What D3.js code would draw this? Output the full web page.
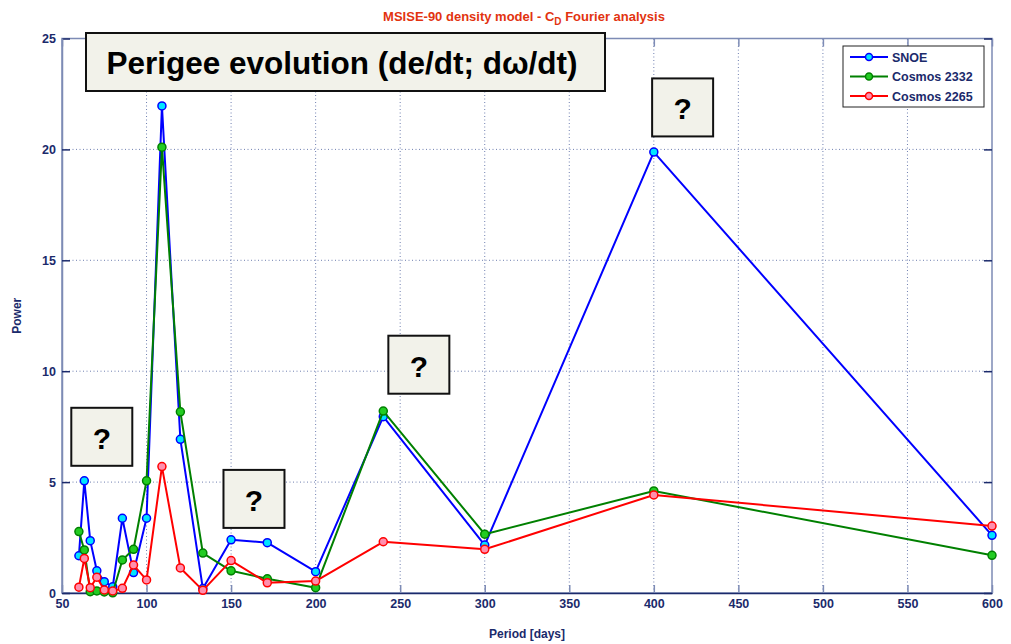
<!DOCTYPE html>
<html>
<head>
<meta charset="utf-8">
<script src="https://cdn.jsdelivr.net/npm/d3@7"></script>
<style>
  body { margin: 0; background: #fff; }
  svg { display: block; font-family: "Liberation Sans", Arial, sans-serif; }
</style>
</head>
<body>
<div data-output></div>
<script>
// Periods [days] (Fourier harmonics)
const periods = [60, 63.2, 66.7, 70.6, 75, 80, 85.7, 92.3, 100, 109.1, 120, 133.3, 150, 171.4, 200, 240, 300, 400, 600];

// Power per satellite
const snoe       = [1.68, 5.06, 2.36, 1.0, 0.51, 0.28, 3.37, 0.92, 3.37, 21.96, 6.93, 0.2, 2.4, 2.27, 0.96, 7.95, 2.16, 19.88, 2.6];
const cosmos2332 = [2.77, 1.94, 0.06, 0.09, 0.05, 0.01, 1.49, 1.97, 5.06, 20.1, 8.17, 1.8, 1.0, 0.64, 0.24, 8.2, 2.65, 4.6, 1.7];
const cosmos2265 = [0.26, 1.56, 0.24, 0.71, 0.14, 0.09, 0.21, 1.26, 0.59, 5.7, 1.13, 0.12, 1.46, 0.46, 0.54, 2.31, 1.97, 4.42, 3.02];

const xTicks = [50, 100, 150, 200, 250, 300, 350, 400, 450, 500, 550, 600];
const yTicks = [0, 5, 10, 15, 20, 25];

// "?" callouts, positioned in data units [period, power]
const questionBoxes = [[55.5, 8.35], [145.5, 5.55], [243, 11.6], [399, 23.2]];

const SIZE = { WIDTH: 1011, HEIGHT: 644 };
const NAVY = '#1b2a6b';
const FRAME = '#7d8bb5';

const series = [
  { name: 'SNOE',        values: snoe,       line: '#0000ff', fill: '#00e5ff', edge: '#0000ff' },
  { name: 'Cosmos 2332', values: cosmos2332, line: '#008000', fill: '#22cc22', edge: '#008000' },
  { name: 'Cosmos 2265', values: cosmos2265, line: '#ff0000', fill: '#ff8fae', edge: '#ff0000' }
];

const x = d3.scaleLinear().domain([50, 600]).range([62, 992]);
const y = d3.scaleLinear().domain([0, 25]).range([593, 38.5]);

const svg = d3.select('[data-output]').append('svg')
  .attr('width', SIZE.WIDTH)
  .attr('height', SIZE.HEIGHT);

// grid
svg.append('g')
  .selectAll('line')
  .data(xTicks.slice(1, -1))
  .join('line')
  .attr('x1', d => x(d)).attr('x2', d => x(d))
  .attr('y1', y(0)).attr('y2', y(25))
  .attr('stroke', '#6f7fb0').attr('stroke-dasharray', '1,2.5');

svg.append('g')
  .selectAll('line')
  .data(yTicks.slice(1, -1))
  .join('line')
  .attr('x1', x(50)).attr('x2', x(600))
  .attr('y1', d => y(d)).attr('y2', d => y(d))
  .attr('stroke', '#6f7fb0').attr('stroke-dasharray', '1,2.5');

// frame
svg.append('rect')
  .attr('x', x(50)).attr('y', y(25))
  .attr('width', x(600) - x(50)).attr('height', y(0) - y(25))
  .attr('fill', 'none').attr('stroke', FRAME).attr('stroke-width', 1.5);

// axes
const xAxis = svg.append('g')
  .attr('transform', `translate(0, ${y(0)})`)
  .call(d3.axisBottom(x).tickValues(xTicks).tickSizeInner(-8).tickSizeOuter(0).tickPadding(6));
xAxis.select('.domain').attr('stroke', NAVY).attr('stroke-width', 1.5);
xAxis.selectAll('.tick line').attr('stroke', FRAME).attr('stroke-width', 1.5);

const yAxis = svg.append('g')
  .attr('transform', `translate(${x(50)}, 0)`)
  .call(d3.axisLeft(y).tickValues(yTicks).tickSizeInner(-8).tickSizeOuter(0).tickPadding(6));
yAxis.select('.domain').attr('stroke', FRAME).attr('stroke-width', 1.5);
yAxis.selectAll('.tick line').attr('stroke', NAVY).attr('stroke-width', 1.5);

// mirrored ticks on top and right
svg.append('g')
  .attr('transform', `translate(0, ${y(25)})`)
  .call(d3.axisTop(x).tickValues(xTicks).tickSizeInner(-8).tickSizeOuter(0).tickFormat(''))
  .call(g => g.select('.domain').remove())
  .selectAll('.tick line').attr('stroke', FRAME).attr('stroke-width', 1.5);

svg.append('g')
  .attr('transform', `translate(${x(600)}, 0)`)
  .call(d3.axisRight(y).tickValues(yTicks).tickSizeInner(-8).tickSizeOuter(0).tickFormat(''))
  .call(g => g.select('.domain').remove())
  .selectAll('.tick line').attr('stroke', NAVY).attr('stroke-width', 1.5);

svg.selectAll('.tick text')
  .attr('fill', NAVY)
  .style('font-size', '12.5px')
  .style('font-weight', 'bold')
  .style('font-family', '"Liberation Sans", Arial, sans-serif');

// lines + markers
const valueLine = d3.line()
  .x(d => x(d[0]))
  .y(d => y(d[1]));

series.forEach(s => {
  const pts = periods.map((p, i) => [p, s.values[i]]);
  svg.append('path')
    .datum(pts)
    .attr('d', valueLine)
    .attr('fill', 'none')
    .attr('stroke', s.line)
    .attr('stroke-width', 2)
    .attr('stroke-linejoin', 'round');
  svg.append('g')
    .selectAll('circle')
    .data(pts)
    .join('circle')
    .attr('cx', d => x(d[0]))
    .attr('cy', d => y(d[1]))
    .attr('r', 4)
    .attr('fill', s.fill)
    .attr('stroke', s.edge)
    .attr('stroke-width', 1.5);
});

// chart title
const title = svg.append('text')
  .attr('x', 524).attr('y', 21)
  .attr('text-anchor', 'middle')
  .attr('fill', '#e2330f')
  .style('font-size', '13px')
  .style('font-weight', 'bold');
title.append('tspan').text('MSISE-90 density model - C');
title.append('tspan').attr('dy', 4).style('font-size', '10px').text('D');
title.append('tspan').attr('dy', -4).text(' Fourier analysis');

// axis labels
svg.append('text')
  .attr('x', 527).attr('y', 638)
  .attr('text-anchor', 'middle')
  .attr('fill', NAVY)
  .style('font-size', '12px').style('font-weight', 'bold')
  .text('Period [days]');

svg.append('text')
  .attr('transform', `translate(21, ${(y(0) + y(25)) / 2}) rotate(-90)`)
  .attr('text-anchor', 'middle')
  .attr('fill', NAVY)
  .style('font-size', '12px').style('font-weight', 'bold')
  .text('Power');

// legend
const legend = svg.append('g').attr('transform', 'translate(843, 46)');
legend.append('rect')
  .attr('width', 141).attr('height', 61)
  .attr('fill', '#fff').attr('stroke', '#222').attr('stroke-width', 1);
series.forEach((s, i) => {
  const row = legend.append('g').attr('transform', `translate(0, ${11 + i * 19.5})`);
  row.append('line')
    .attr('x1', 7).attr('x2', 45)
    .attr('stroke', s.line).attr('stroke-width', 2);
  row.append('circle')
    .attr('cx', 26).attr('r', 3.5)
    .attr('fill', s.fill).attr('stroke', s.edge).attr('stroke-width', 1.5);
  row.append('text')
    .attr('x', 49).attr('y', 4.5)
    .attr('fill', NAVY)
    .style('font-size', '12.5px').style('font-weight', 'bold')
    .text(s.name);
});

// big annotation box
const banner = svg.append('g').attr('transform', 'translate(86, 33)');
banner.append('rect')
  .attr('width', 519).attr('height', 58)
  .attr('fill', '#f2f2ea').attr('stroke', '#111').attr('stroke-width', 2);
banner.append('text')
  .attr('x', 256).attr('y', 41)
  .attr('text-anchor', 'middle')
  .attr('fill', '#000')
  .style('font-size', '31.5px').style('font-weight', 'bold')
  .text('Perigee evolution (de/dt; dω/dt)');

// "?" boxes
const qb = svg.append('g')
  .selectAll('g')
  .data(questionBoxes)
  .join('g')
  .attr('transform', d => `translate(${x(d[0])}, ${y(d[1])})`);
qb.append('rect')
  .attr('width', 61).attr('height', 58)
  .attr('fill', '#f2f2ea').attr('stroke', '#111').attr('stroke-width', 2);
qb.append('text')
  .attr('x', 30.5).attr('y', 41)
  .attr('text-anchor', 'middle')
  .attr('fill', '#000')
  .style('font-size', '30px').style('font-weight', 'bold')
  .text('?');
</script>
</body>
</html>
